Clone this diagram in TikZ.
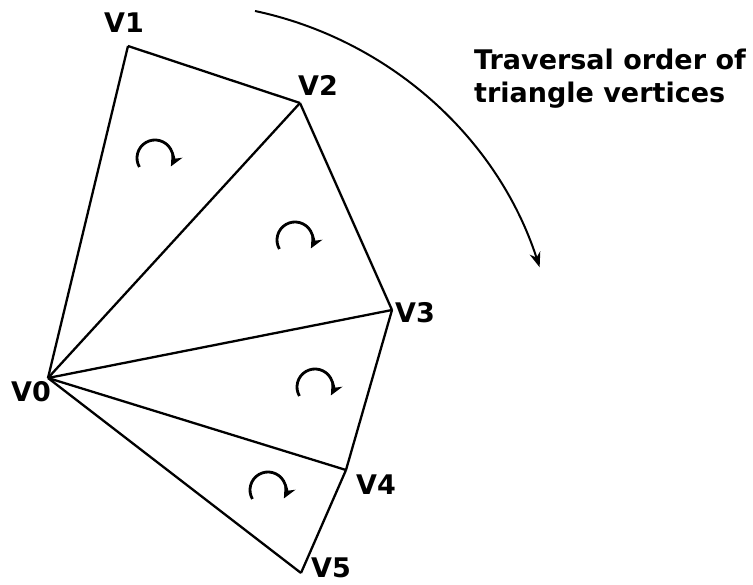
\documentclass[tikz,border=0pt]{standalone}
\usepackage{fontspec}
\setmainfont{DejaVu Sans}
\usetikzlibrary{arrows.meta}
\begin{document}
\begin{tikzpicture}
  [x=1pt,y=-1pt,line width=2.3pt,
   every node/.style={font=\fontsize{27}{33}\selectfont\bfseries,inner sep=0pt},
   turn/.style={-{Stealth[length=13pt,width=12pt]},line width=2.8pt}]
  \useasboundingbox (0,0) rectangle (753,585);

  % vertices of the fan
  \coordinate (v0) at (48,378);
  \coordinate (v1) at (128,46);
  \coordinate (v2) at (300,103);
  \coordinate (v3) at (392,310);
  \coordinate (v4) at (346,470);
  \coordinate (v5) at (301,573);

  \foreach \from/\to in {v0/v1,v1/v2,v2/v3,v3/v4,v4/v5,v5/v0,v0/v2,v0/v3,v0/v4}
    \draw (\from) -- (\to);

  % vertex labels
  \node (l0) at (31,392) {V0};
  \node (l1) at (124,23) {V1};
  \node (l2) at (318,85) {V2};
  \node (l3) at (415,313) {V3};
  \node (l4) at (376,485) {V4};
  \node (l5) at (331,568) {V5};

  % winding of each triangle
  \foreach \cx/\cy in {155/158, 295/240, 315/387, 268/490}
    \draw[turn] (\cx,\cy) ++(150:18) arc[start angle=150,end angle=388,radius=18];

  % big arrow and its caption
  \coordinate (arcstart) at (255,11);
  \draw[line width=2pt,-{Stealth[length=15pt,width=11pt]}] (arcstart) arc[start angle=-78,end angle=-18,radius=383];
  \node[anchor=north west,align=left] (cap) at (473,48) {Traversal order of\\triangle vertices};
\end{tikzpicture}
\end{document}
